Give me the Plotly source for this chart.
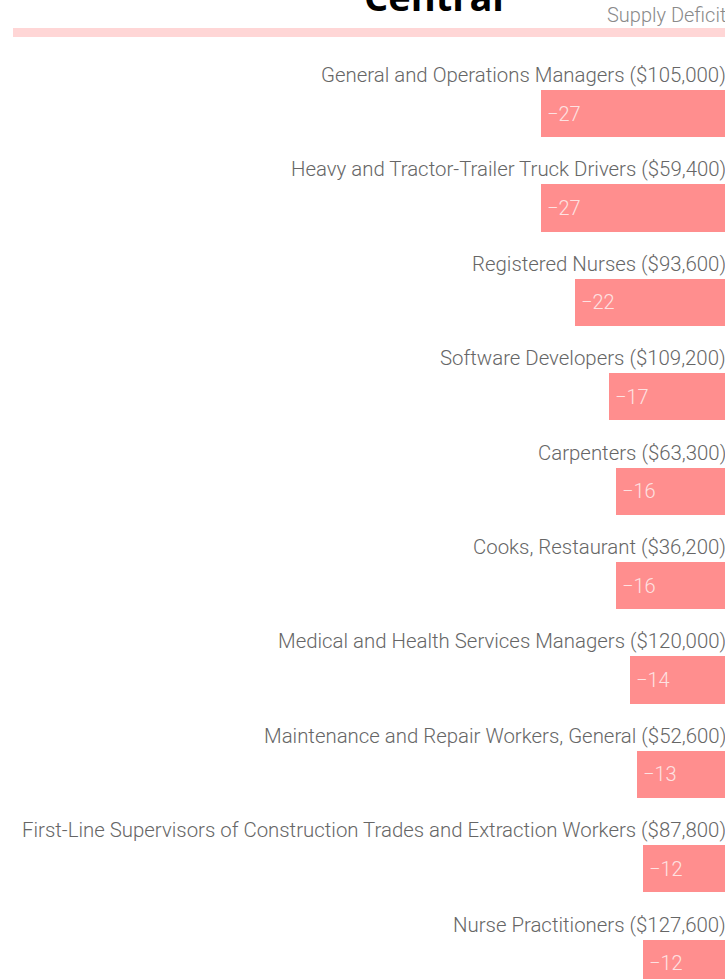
import plotly.graph_objects as go

occupations = [
    "General and Operations Managers ($105,000)",
    "Heavy and Tractor-Trailer Truck Drivers ($59,400)",
    "Registered Nurses ($93,600)",
    "Software Developers ($109,200)",
    "Carpenters ($63,300)",
    "Cooks, Restaurant ($36,200)",
    "Medical and Health Services Managers ($120,000)",
    "Maintenance and Repair Workers, General ($52,600)",
    "First-Line Supervisors of Construction Trades and Extraction Workers ($87,800)",
    "Nurse Practitioners ($127,600)",
]
deficit = [-27, -27, -22, -17, -16, -16, -14, -13, -12, -12]

W, H = 725, 979
BAR = "#ff8e8e"

fig = go.Figure(go.Bar(
    x=deficit, y=list(range(len(deficit))), orientation="h",
    marker=dict(color=BAR, line=dict(width=0)), width=0.5,
    hoverinfo="skip", showlegend=False,
))

annotations = []
for i, (lab, v) in enumerate(zip(occupations, deficit)):
    annotations.append(dict(
        x=1, xref="paper", xanchor="right", y=i, yref="y", yanchor="middle",
        yshift=38.5, xshift=3, text=lab, showarrow=False,
        font=dict(family="Roboto", size=20.4, color="#666666", weight=300),
    ))
    annotations.append(dict(
        x=v, xref="x", xanchor="left", y=i, yref="y", yanchor="middle",
        xshift=4, text=str(v).replace("-", "\u2212"), showarrow=False,
        font=dict(family="Roboto", size=20, color="#fde2e2", weight=300),
    ))

annotations.append(dict(
    x=434 / W, xref="paper", xanchor="center", y=1 + 4 / H, yref="paper",
    yanchor="middle", text="<b>Central</b>", showarrow=False,
    font=dict(family="Open Sans", size=38, color="#000000"),
))
annotations.append(dict(
    x=1, xref="paper", xanchor="right", y=1 - 15 / H, yref="paper",
    xshift=3, yanchor="middle", text="Supply Deficit", showarrow=False,
    font=dict(family="Roboto", size=20, color="#8a8a8a", weight=300),
))

shapes = [dict(
    type="rect", xref="paper", yref="paper", x0=13 / W, x1=1,
    y0=1 - 37 / H, y1=1 - 28 / H, fillcolor="#ffd6d6", line=dict(width=0),
    layer="below",
)]

px_per_unit = 6.8
step = 94.4
c0 = 113.5
fig.update_layout(
    width=W, height=H,
    margin=dict(l=0, r=0, t=0, b=0),
    paper_bgcolor="white", plot_bgcolor="white",
    xaxis=dict(range=[-W / px_per_unit, 0], visible=False, fixedrange=True),
    yaxis=dict(range=[(H - c0) / step, -c0 / step], visible=False, fixedrange=True),
    annotations=annotations, shapes=shapes,
    bargap=0,
)

fig.write_html(
    "out.html",
    config=dict(displayModeBar=False),
    post_script="document.body.style.margin='0';document.body.style.overflow='hidden';document.documentElement.style.overflow='hidden';",
)
